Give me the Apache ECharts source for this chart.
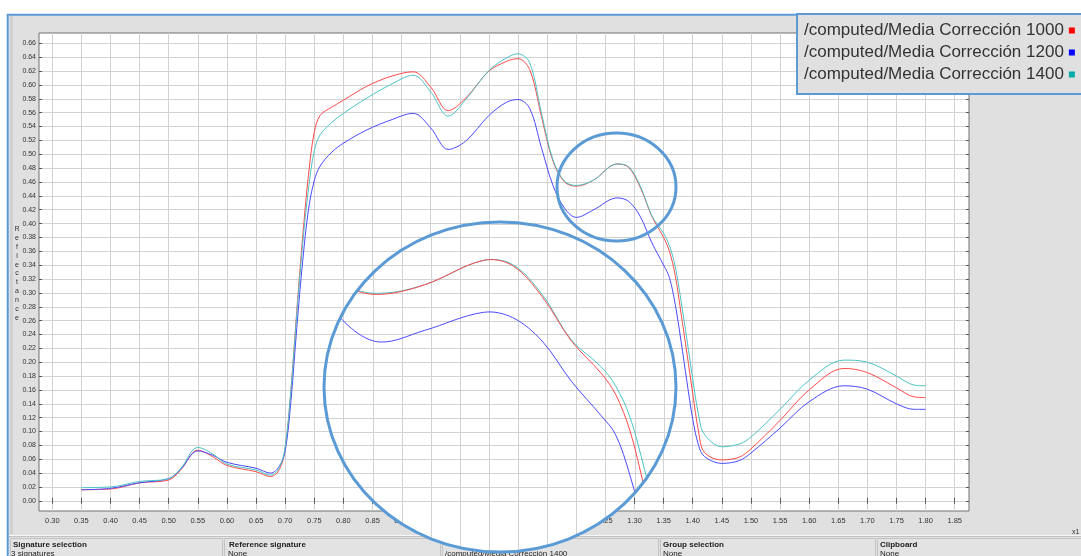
<!DOCTYPE html>
<html>
<head>
<meta charset="utf-8">
<script src="https://cdn.jsdelivr.net/npm/echarts@6/dist/echarts.min.js"></script>
<style>
  html, body { margin: 0; padding: 0; background: #fff; }
  #chart { width: 1081px; height: 556px; }
</style>
</head>
<body>
<div id="chart"></div>
<script>
// Wavelength (µm) sample positions shared by the three spectra
const wavelengths = [0.35, 0.40, 0.45, 0.50, 0.52, 0.55, 0.575, 0.60, 0.65, 0.675, 0.69, 0.70, 0.71, 0.72, 0.73, 0.74,
  0.75, 0.76, 0.78, 0.80, 0.84, 0.88, 0.92, 0.95, 0.98, 1.01, 1.05, 1.08, 1.10, 1.12, 1.14, 1.16, 1.18, 1.20, 1.23,
  1.27, 1.29, 1.31, 1.33, 1.35, 1.36, 1.37, 1.38, 1.39, 1.40, 1.41, 1.42, 1.45, 1.48, 1.50, 1.55, 1.60, 1.66, 1.70,
  1.75, 1.78, 1.80];

// Mean reflectance, correction 1000
const media1000 = [0.016, 0.017, 0.026, 0.030, 0.044, 0.073, 0.064, 0.051, 0.042, 0.035, 0.045, 0.075, 0.160, 0.275,
  0.380, 0.470, 0.532, 0.556, 0.568, 0.578, 0.598, 0.612, 0.619, 0.597, 0.563, 0.581, 0.620, 0.634, 0.638, 0.622,
  0.555, 0.490, 0.460, 0.454, 0.463, 0.486, 0.481, 0.452, 0.410, 0.380, 0.360, 0.325, 0.270, 0.213, 0.155, 0.100,
  0.070, 0.059, 0.063, 0.075, 0.116, 0.160, 0.191, 0.185, 0.163, 0.150, 0.149];

// Mean reflectance, correction 1200
const media1200 = [0.016, 0.018, 0.026, 0.032, 0.045, 0.072, 0.066, 0.0555, 0.047, 0.040, 0.050, 0.072, 0.145, 0.250,
  0.345, 0.420, 0.462, 0.483, 0.503, 0.516, 0.535, 0.549, 0.559, 0.538, 0.507, 0.519, 0.556, 0.575, 0.579, 0.566,
  0.510, 0.455, 0.422, 0.409, 0.420, 0.437, 0.432, 0.410, 0.372, 0.340, 0.322, 0.283, 0.230, 0.172, 0.118, 0.080,
  0.064, 0.054, 0.058, 0.069, 0.105, 0.143, 0.166, 0.161, 0.140, 0.132, 0.132];

// Mean reflectance, correction 1400
const media1400 = [0.019, 0.020, 0.028, 0.032, 0.046, 0.077, 0.068, 0.053, 0.0445, 0.037, 0.048, 0.078, 0.162, 0.270,
  0.370, 0.450, 0.505, 0.528, 0.546, 0.559, 0.581, 0.600, 0.614, 0.590, 0.555, 0.579, 0.621, 0.639, 0.645, 0.632,
  0.560, 0.492, 0.461, 0.455, 0.463, 0.486, 0.482, 0.454, 0.411, 0.386, 0.368, 0.338, 0.288, 0.233, 0.176, 0.124,
  0.096, 0.078, 0.082, 0.092, 0.132, 0.174, 0.203, 0.200, 0.180, 0.167, 0.166];

const seriesNames = [
  '/computed/Media Corrección 1000',
  '/computed/Media Corrección 1200',
  '/computed/Media Corrección 1400'
];

const xTickValues = [0.30, 0.35, 0.40, 0.45, 0.50, 0.55, 0.60, 0.65, 0.70, 0.75, 0.80, 0.85, 0.90, 0.95, 1.00,
  1.05, 1.10, 1.15, 1.20, 1.25, 1.30, 1.35, 1.40, 1.45, 1.50, 1.55, 1.60, 1.65, 1.70, 1.75, 1.80, 1.85];
const yTickValues = [0.00, 0.02, 0.04, 0.06, 0.08, 0.10, 0.12, 0.14, 0.16, 0.18, 0.20, 0.22, 0.24, 0.26, 0.28, 0.30,
  0.32, 0.34, 0.36, 0.38, 0.40, 0.42, 0.44, 0.46, 0.48, 0.50, 0.52, 0.54, 0.56, 0.58, 0.60, 0.62, 0.64, 0.66];

// Visible data window of the plot and of the magnified lens
const X_RANGE = [0.2772, 1.8745];
const Y_RANGE = [-0.0147, 0.675];
const LENS_X_RANGE = [1.1614, 1.4013];
const LENS_Y_RANGE = [0.211, 0.5222];

const LINE_COLORS = ['#ff4a4a', '#4a4aff', '#4cc4c4'];
const ICON_COLORS = ['#ff0000', '#0000ff', '#00aaaa'];
const ACCENT = '#5b9bd5';
const GRID_LINE = '#d2d2d2';

const spectra = [media1000, media1200, media1400];
const toPairs = arr => wavelengths.map((w, i) => [w, arr[i]]);

// Lens geometry (annotation overlay)
const LENS = { cx: 500, cy: 387, rx: 176, ry: 165 };
const SPOT = { cx: 616.5, cy: 187, rx: 59.5, ry: 54 };

const chart = echarts.init(document.getElementById('chart'), null, { renderer: 'canvas' });

const FONT = '"Liberation Sans", Arial, sans-serif';

const lineSeries = spectra.map((arr, i) => ({
  name: seriesNames[i],
  type: 'line',
  xAxisIndex: 0,
  yAxisIndex: 0,
  data: toPairs(arr),
  symbol: 'none',
  showSymbol: false,
  smooth: 0.35,
  lineStyle: { width: 1, color: LINE_COLORS[i] },
  itemStyle: { color: ICON_COLORS[i] },
  z: 3,
  silent: true
}));

// White lens background with the plot grid continuing inside it
const lensBackground = {
  type: 'custom',
  xAxisIndex: 0,
  yAxisIndex: 0,
  z: 8,
  silent: true,
  clip: false,
  data: [[1.0, 0.3]],
  renderItem: function (params, api) {
    const children = [{ type: 'ellipse', shape: LENS, style: { fill: '#ffffff' } }];
    xTickValues.forEach(v => {
      const x = Math.round(api.coord([v, 0])[0]) + 0.5;
      children.push({ type: 'line', shape: { x1: x, y1: LENS.cy - LENS.ry, x2: x, y2: LENS.cy + LENS.ry },
        style: { stroke: GRID_LINE, lineWidth: 1 } });
    });
    yTickValues.forEach(v => {
      const y = Math.round(api.coord([1.0, v])[1]) + 0.5;
      children.push({ type: 'line', shape: { x1: LENS.cx - LENS.rx, y1: y, x2: LENS.cx + LENS.rx, y2: y },
        style: { stroke: GRID_LINE, lineWidth: 1 } });
    });
    return { type: 'group', children: children, clipPath: { type: 'ellipse', shape: LENS } };
  }
};

// Magnified spectra inside the lens
const lensCurves = {
  type: 'custom',
  xAxisIndex: 2,
  yAxisIndex: 2,
  z: 9,
  silent: true,
  clip: false,
  data: [[1.3, 0.4]],
  renderItem: function (params, api) {
    const order = [1, 2, 0];
    const children = order.map(si => {
      const pts = [];
      wavelengths.forEach((w, i) => {
        if (w >= 1.08 && w <= 1.45) pts.push(api.coord([w, spectra[si][i]]));
      });
      return { type: 'polyline', shape: { points: pts, smooth: 0.35 },
        style: { stroke: LINE_COLORS[si], lineWidth: 1, fill: 'none' } };
    });
    return { type: 'group', children: children, clipPath: { type: 'ellipse', shape: LENS } };
  }
};

const hiddenAxisParts = {
  axisLine: { show: false }, axisLabel: { show: false }, axisTick: { show: false }, splitLine: { show: false }
};

const option = {
  animation: false,
  backgroundColor: '#e0e0e0',
  grid: [
    { left: 39, top: 33, width: 930, height: 478, show: true, backgroundColor: '#ffffff',
      borderColor: '#707070', borderWidth: 1, containLabel: false },
    { left: LENS.cx - LENS.rx, top: LENS.cy - LENS.ry, width: LENS.rx * 2, height: LENS.ry * 2,
      show: false, containLabel: false }
  ],
  xAxis: [
    { type: 'value', gridIndex: 0, position: 'bottom', min: X_RANGE[0], max: X_RANGE[1],
      axisLine: { show: false },
      axisTick: { show: true, inside: true, length: 3, customValues: xTickValues, lineStyle: { color: '#555' } },
      axisLabel: { customValues: xTickValues, formatter: v => v.toFixed(2), fontSize: 7.5, color: '#333',
        fontFamily: FONT, margin: 6 },
      splitLine: { show: true, lineStyle: { color: GRID_LINE, width: 1 } } },
    { type: 'value', gridIndex: 0, position: 'top', min: X_RANGE[0], max: X_RANGE[1],
      axisLine: { show: false }, axisLabel: { show: false }, splitLine: { show: false },
      axisTick: { show: true, inside: true, length: 3, customValues: xTickValues, lineStyle: { color: '#555' } } },
    Object.assign({ type: 'value', gridIndex: 1, min: LENS_X_RANGE[0], max: LENS_X_RANGE[1] }, hiddenAxisParts)
  ],
  yAxis: [
    { type: 'value', gridIndex: 0, position: 'left', min: Y_RANGE[0], max: Y_RANGE[1],
      axisLine: { show: false },
      axisTick: { show: true, inside: true, length: 3, customValues: yTickValues, lineStyle: { color: '#555' } },
      axisLabel: { customValues: yTickValues, formatter: v => v.toFixed(2), fontSize: 7, color: '#333',
        fontFamily: FONT, margin: 3 },
      splitLine: { show: true, lineStyle: { color: GRID_LINE, width: 1 } } },
    { type: 'value', gridIndex: 0, position: 'right', min: Y_RANGE[0], max: Y_RANGE[1],
      axisLine: { show: false }, axisLabel: { show: false }, splitLine: { show: false },
      axisTick: { show: true, inside: true, length: 3, customValues: yTickValues, lineStyle: { color: '#555' } } },
    Object.assign({ type: 'value', gridIndex: 1, min: LENS_Y_RANGE[0], max: LENS_Y_RANGE[1] }, hiddenAxisParts)
  ],
  legend: {
    orient: 'vertical', left: 797, top: 14, align: 'right',
    data: seriesNames, icon: 'rect', itemWidth: 6, itemHeight: 6, itemGap: 5,
    padding: [8, 12, 11, 7],
    backgroundColor: '#e0e0e0', borderColor: ACCENT, borderWidth: 2, borderRadius: 0,
    selectedMode: false,
    textStyle: { fontFamily: FONT, fontSize: 17, color: '#333', lineHeight: 17 }
  },
  graphic: [
    // surrounding page and window frame
    { type: 'rect', shape: { x: 0, y: 0, width: 1081, height: 14 }, style: { fill: '#ffffff' }, silent: true },
    { type: 'rect', shape: { x: 0, y: 0, width: 7, height: 556 }, style: { fill: '#ffffff' }, silent: true },
    { type: 'rect', shape: { x: 7.7, y: 14.7, width: 1090, height: 560 },
      style: { fill: 'none', stroke: ACCENT, lineWidth: 2 }, silent: true },
    { type: 'rect', shape: { x: 10, y: 16, width: 3, height: 518 }, style: { fill: '#d0d0d0' }, silent: true },
    { type: 'text', x: 17, y: 273.5, silent: true,
      style: { text: 'R\ne\nf\nl\ne\nc\nt\na\nn\nc\ne', font: '7px ' + FONT, fill: '#333', lineHeight: 8.9,
        textAlign: 'center', textVerticalAlign: 'middle', align: 'center', verticalAlign: 'middle' } },
    { type: 'text', x: 1072, y: 532, silent: true,
      style: { text: 'x1', font: '7px ' + FONT, fill: '#333', textVerticalAlign: 'middle', verticalAlign: 'middle' } },
    // status panel
    { type: 'rect', shape: { x: 9, y: 535, width: 1072, height: 1 }, style: { fill: '#f6f6f6' }, silent: true },
    { type: 'rect', shape: { x: 9, y: 536, width: 1072, height: 1 }, style: { fill: '#c2c2c2' }, silent: true },
    { type: 'rect', shape: { x: 10.5, y: 538.5, width: 212, height: 30 }, style: { fill: '#e3e3e3', stroke: '#c4c4c4', lineWidth: 1 }, silent: true },
    { type: 'rect', shape: { x: 224.5, y: 538.5, width: 216, height: 30 }, style: { fill: '#e3e3e3', stroke: '#c4c4c4', lineWidth: 1 }, silent: true },
    { type: 'rect', shape: { x: 442.5, y: 538.5, width: 216, height: 30 }, style: { fill: '#e3e3e3', stroke: '#c4c4c4', lineWidth: 1 }, silent: true },
    { type: 'rect', shape: { x: 660.5, y: 538.5, width: 215, height: 30 }, style: { fill: '#e3e3e3', stroke: '#c4c4c4', lineWidth: 1 }, silent: true },
    { type: 'rect', shape: { x: 877.5, y: 538.5, width: 210, height: 30 }, style: { fill: '#e3e3e3', stroke: '#c4c4c4', lineWidth: 1 }, silent: true },
    { type: 'text', x: 13, y: 544.5, silent: true, style: { text: 'Signature selection', font: 'bold 8px ' + FONT, fill: '#222', textVerticalAlign: 'middle', verticalAlign: 'middle' } },
    { type: 'text', x: 11, y: 553.5, silent: true, style: { text: '3 signatures', font: '8px ' + FONT, fill: '#222', textVerticalAlign: 'middle', verticalAlign: 'middle' } },
    { type: 'text', x: 229, y: 544.5, silent: true, style: { text: 'Reference signature', font: 'bold 8px ' + FONT, fill: '#222', textVerticalAlign: 'middle', verticalAlign: 'middle' } },
    { type: 'text', x: 228, y: 553.5, silent: true, style: { text: 'None', font: '8px ' + FONT, fill: '#222', textVerticalAlign: 'middle', verticalAlign: 'middle' } },
    { type: 'text', x: 445, y: 553.5, silent: true, style: { text: '/computed/Media Corrección 1400', font: '8px ' + FONT, fill: '#222', textVerticalAlign: 'middle', verticalAlign: 'middle' } },
    { type: 'text', x: 663, y: 544.5, silent: true, style: { text: 'Group selection', font: 'bold 8px ' + FONT, fill: '#222', textVerticalAlign: 'middle', verticalAlign: 'middle' } },
    { type: 'text', x: 663, y: 553.5, silent: true, style: { text: 'None', font: '8px ' + FONT, fill: '#222', textVerticalAlign: 'middle', verticalAlign: 'middle' } },
    { type: 'text', x: 880, y: 544.5, silent: true, style: { text: 'Clipboard', font: 'bold 8px ' + FONT, fill: '#222', textVerticalAlign: 'middle', verticalAlign: 'middle' } },
    { type: 'text', x: 880, y: 553.5, silent: true, style: { text: 'None', font: '8px ' + FONT, fill: '#222', textVerticalAlign: 'middle', verticalAlign: 'middle' } },
    // highlight rings
    { type: 'ellipse', shape: SPOT, z: 100, silent: true, style: { fill: 'none', stroke: ACCENT, lineWidth: 3 } },
    { type: 'ellipse', shape: LENS, z: 100, silent: true, style: { fill: 'none', stroke: ACCENT, lineWidth: 3 } }
  ],
  series: lineSeries.concat([lensBackground, lensCurves])
};

chart.setOption(option);
</script>
</body>
</html>
